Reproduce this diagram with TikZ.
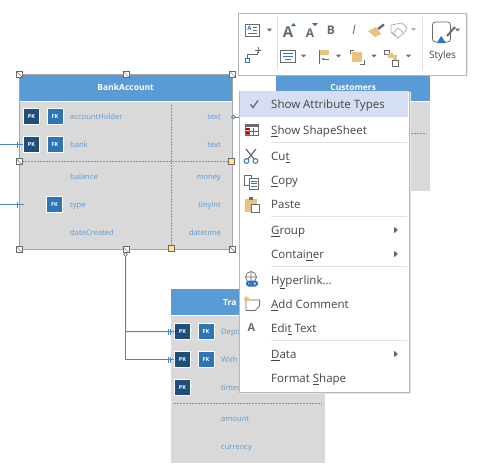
\documentclass[tikz,border=0pt]{standalone}
\usepackage{fontspec}
\setmainfont{Open Sans}
\usetikzlibrary{arrows.meta, positioning, calc}
\definecolor{HeadBlue}{HTML}{5B9BD5}
\definecolor{BodyGray}{HTML}{D9D9D9}
\definecolor{PkBlue}{HTML}{1F4E79}
\definecolor{FkBlue}{HTML}{2E75B6}
\definecolor{LineBlue}{HTML}{4A86C0}
\definecolor{EdgeGray}{HTML}{A6A6A6}
\definecolor{MenuText}{HTML}{444444}
\definecolor{MenuPick}{HTML}{D5DEF3}
\definecolor{MenuRule}{HTML}{E1E1E1}
\definecolor{IconTan}{HTML}{E9C27B}
\definecolor{IconGray}{HTML}{6B6B6B}
\definecolor{HandleYellow}{HTML}{FFE680}
\newcommand{\keyed}[1]{\underline{#1}}
\tikzset{
  entitybody/.style={fill=BodyGray, anchor=north west, inner sep=0pt},
  entityhead/.style={fill=HeadBlue, anchor=north west, inner sep=0pt, minimum height=26pt, text=white, font=\fontsize{8.5}{10}\selectfont\bfseries},
  pkbox/.style={draw=white, fill=PkBlue, minimum size=16pt, inner sep=0pt, text=white, font=\fontsize{5.5}{6}\selectfont\bfseries},
  fkbox/.style={pkbox, fill=FkBlue},
  attrname/.style={anchor=west, inner sep=0pt, text=HeadBlue, text height=8pt, text depth=2pt, font=\fontsize{7.6}{9}\selectfont},
  attrtype/.style={attrname, anchor=east},
  handlebox/.style={draw=IconGray, fill=white, minimum size=6pt, inner sep=0pt, path picture={\draw[IconGray, line width=.4pt] (path picture bounding box.north west) -- (path picture bounding box.south east);}},
  yellowbox/.style={draw=IconGray, fill=HandleYellow, minimum size=6pt, inner sep=0pt},
  dotline/.style={HeadBlue, line width=.9pt, dash pattern=on 2pt off 1pt},
  joinline/.style={LineBlue, line width=1pt},
  menuitem/.style={anchor=west, inner sep=0pt, text=MenuText, text height=10pt, text depth=2pt, font=\fontsize{11.5}{13}\selectfont},
  menurule/.style={MenuRule, line width=1pt},
  droparrow/.pic={\fill[IconGray] (-2.6,-1.4) -- (2.6,-1.4) -- (0,1.4) -- cycle;},
  subarrow/.pic={\fill[IconGray] (-1.8,-3.2) -- (2,0) -- (-1.8,3.2) -- cycle;}
}
\begin{document}
\begin{tikzpicture}[x=1pt, y=-1pt]
  \useasboundingbox[fill=white] (0,0) rectangle (485,467);

  % Customers, mostly behind the toolbar and the menu
  \node[entitybody, minimum width=154pt, minimum height=117pt] (custBody) at (276,74) {};
  \node[entityhead, minimum width=154pt, minimum height=27pt] (custHead) at (276,74) {Customers};
  \draw[white, line width=.8pt] (custHead.south west) -- (custHead.south east);
  \coordinate (custRuleA) at (276,133.5);
  \coordinate (custRuleB) at (426,133.5);
  \draw[dotline] (custRuleA) -- (custRuleB);

  % Transaction
  \node[entitybody, minimum width=154pt, minimum height=174pt] (tranBody) at (171,289) {};
  \node[entityhead, minimum width=154pt] (tranHead) at (171,289) {};
  \draw[white, line width=.8pt] (tranHead.south west) -- (tranHead.south east);
  \node[anchor=west, inner sep=0pt, text=white, font=\fontsize{8.5}{10}\selectfont\bfseries] (tranTitle) at (223,302) {Tra};
  \node[pkbox] (tranPkA) at (182.5,331.5) {PK};
  \node[fkbox, right=7pt of tranPkA] (tranFkA) {FK};
  \node[pkbox] (tranPkB) at (182.5,359.5) {PK};
  \node[fkbox, right=7pt of tranPkB] (tranFkB) {FK};
  \node[pkbox] (tranPkC) at (182.5,387.5) {PK};
  \node[attrname] (tranDepo) at (221,331.5) {Depo};
  \node[attrname] (tranWith) at (221,359.5) {With};
  \node[attrname] (tranTime) at (221,387.5) {times};
  \node[attrname] (tranAmount) at (221,418.5) {amount};
  \node[attrname] (tranCurrency) at (221,446.5) {currency};
  \coordinate (tranRuleA) at (174,403.5);
  \coordinate (tranRuleB) at (322,403.5);
  \draw[dotline] (tranRuleA) -- (tranRuleB);

  % BankAccount
  \node[entitybody, minimum width=213pt, minimum height=175pt] (bankBody) at (19,74) {};
  \node[entityhead, minimum width=213pt, minimum height=27pt] (bankHead) at (19,74) {BankAccount};
  \draw[white, line width=.8pt] (bankHead.south west) -- (bankHead.south east);
  \node[pkbox] (bankPkA) at (31.5,116.5) {PK};
  \node[fkbox, right=7pt of bankPkA] (bankFkA) {FK};
  \node[pkbox] (bankPkB) at (31.5,144.5) {PK};
  \node[fkbox, right=7pt of bankPkB] (bankFkB) {FK};
  \node[fkbox] (bankFkC) at (54.5,204.5) {FK};
  \node[attrname] (bankHolder) at (70,116.5) {accountHolder};
  \node[attrname] (bankBank) at (70,144.5) {bank};
  \node[attrname] (bankBalance) at (70,176.5) {balance};
  \node[attrname] (bankType) at (70,204.5) {type};
  \node[attrname] (bankDate) at (70,232.5) {dateCreated};
  \node[attrtype] (bankTypeA) at (221,116.5) {text};
  \node[attrtype] (bankTypeB) at (221,144.5) {text};
  \node[attrtype] (bankTypeC) at (221,176.5) {money};
  \node[attrtype] (bankTypeD) at (221,204.5) {tinyint};
  \node[attrtype] (bankTypeE) at (221,232.5) {datetime};
  \draw[EdgeGray, line width=.9pt] (bankBody.north west) rectangle (bankBody.south east);

  % selection handles
  \node[yellowbox] (yellowA) at (231.5,161.5) {};
  \node[yellowbox] (yellowB) at (171.5,248.5) {};
  \draw[dotline] (bankBody.west |- yellowA) -- (yellowA);
  \draw[dotline] (yellowB |- bankBody.north) ++(0,31) -- (yellowB);
  \node[handlebox] (handleNW) at (bankBody.north west) {};
  \node[handlebox] (handleN) at (bankBody.north) {};
  \node[handlebox] (handleNE) at (bankBody.north east) {};
  \node[handlebox] (handleW) at (19,161.5) {};
  \node[handlebox] (handleSW) at (bankBody.south west) {};
  \node[handlebox] (handleS) at (bankBody.south) {};
  \node[handlebox] (handleSE) at (bankBody.south east) {};

  % connectors
  \coordinate (leftA) at (0,144.5);
  \coordinate (leftB) at (0,204.5);
  \coordinate (leftBEnd) at (24,204.5);
  \coordinate (dropEnd) at (125.5,259);
  \coordinate (custEnd) at (240,117);
  \draw[joinline] (leftA) -- (bankPkB.west);
  \draw[joinline] (17,141.5) -- (17,147.5);
  \draw[joinline] (leftB) -- (leftBEnd);
  \draw[joinline] (17,201.5) -- (17,207.5);
  \draw[joinline] (handleS.south) -- (dropEnd) |- (tranPkA.west);
  \draw[joinline] (dropEnd) |- (tranPkB.west);
  \draw[joinline] (168,328.5) -- (168,334.5) (170.5,328.5) -- (170.5,334.5);
  \draw[joinline] (168,356.5) -- (168,362.5) (170.5,356.5) -- (170.5,362.5);
  \draw[LineBlue, fill=white, line width=.7pt] (125.5,254.5) circle (1.8);
  \draw[joinline] (231,117) -- (custEnd);
  \draw[LineBlue, fill=BodyGray, line width=.7pt] (233.5,117) circle (1.8);

  % toolbar
  \fill[black!10] (240,14) rectangle (468,76);
  \node[draw=EdgeGray!80, fill=white, anchor=north west, minimum width=228pt, minimum height=62pt, inner sep=0pt] (toolbar) at (238,12.5) {};
  \draw[MenuRule] (277,16) -- (277,70);
  \draw[MenuRule] (422.5,16) -- (422.5,70);
  % text block
  \draw[IconGray, line width=.8pt] (245.5,24.5) rectangle (259,36);
  \node[inner sep=0pt, text=FkBlue, font=\fontsize{6}{6}\selectfont\bfseries] (blockA) at (249.5,28.5) {A};
  \draw[IconGray, line width=.6pt] (253,27) -- (257,27) (253,30) -- (257,30) (248,33) -- (257,33);
  \pic at (269.5,30) {droparrow};
  % connector tool
  \draw[FkBlue, line width=.8pt] (245.5,58) rectangle (249.5,62);
  \draw[IconGray, line width=.7pt] (247.5,58) -- (247.5,54) -- (257,54) -- (257,52) (258,47) -- (258,53) (255,50) -- (261,50);
  % font buttons
  \node[inner sep=0pt, text=IconGray, font=\fontsize{15}{15}\selectfont\bfseries] (fontUp) at (288,32) {A};
  \fill[FkBlue] (291,26) -- (296,26) -- (293.5,23) -- cycle;
  \node[inner sep=0pt, text=IconGray, font=\fontsize{12}{12}\selectfont\bfseries] (fontDown) at (310,33) {A};
  \fill[FkBlue] (312,23) -- (318,23) -- (315,26) -- cycle;
  \node[inner sep=0pt, text=IconGray, font=\fontsize{12}{12}\selectfont\bfseries] (fontBold) at (331,30) {B};
  \node[inner sep=0pt, text=IconGray, font=\fontsize{13}{13}\selectfont\itshape] (fontItalic) at (354,30) {I};
  % format painter
  \fill[IconTan] (368,31) -- (376,27) -- (381,34) -- (375,37) -- cycle;
  \draw[IconGray, line width=2.4pt] (378,29) -- (384,24.5);
  % ghost style button
  \draw[black!30, line width=.8pt] (391,25) -- (402,23) -- (407,28) -- (405,32);
  \draw[black!30, line width=.8pt] (391,25) -- (391,32) -- (395,36);
  \draw[black!30, fill=white, line width=.8pt] (398,28) -- (404,33) -- (398,38) -- (393,33) -- cycle;
  \fill[black!30] (411,28) -- (416,28) -- (413.5,31) -- cycle;
  % paragraph
  \draw[IconGray, line width=.8pt] (280.5,50) rectangle (295,62);
  \draw[FkBlue, line width=.8pt] (283,53) -- (293,53) (283,56) -- (293,56) (285,59) -- (291,59);
  \pic at (303.5,56) {droparrow};
  % align
  \draw[IconGray, line width=.8pt] (319,50) -- (319,64);
  \fill[IconTan] (320,50) rectangle (329,55);
  \draw[FkBlue, line width=.9pt, -{Latex[length=3pt]}] (329,59) -- (321,59);
  \pic at (338.5,56) {droparrow};
  % bring forward
  \draw[IconGray, line width=.7pt] (350,54) -- (350,50) -- (354,50) (364,60) -- (364,64) -- (360,64);
  \fill[IconTan] (352,52) rectangle (362,62);
  \pic at (374,56) {droparrow};
  % group
  \draw[IconGray, line width=.7pt] (384.5,50) rectangle (389,54.5);
  \fill[IconTan] (388,53) rectangle (393,58);
  \fill[IconTan] (393,55) rectangle (397,60);
  \draw[IconGray, line width=.7pt] (392,60) rectangle (398,66);
  \pic at (408.5,56) {droparrow};
  % styles
  \draw[IconGray, line width=.8pt, rounded corners=3pt] (432.5,22) rectangle (450.5,42);
  \fill[FkBlue] (437,43) -- (441,36) -- (446,43) -- cycle;
  \draw[IconGray, line width=2pt] (447,36) -- (455,27);
  \pic at (457.5,30) {droparrow};
  \node[inner sep=0pt, text=MenuText, font=\fontsize{10}{12}\selectfont] (stylesLabel) at (442.5,56) {Styles};

  % context menu
  \fill[black!10] (241,92) rectangle (410.5,393.5);
  \node[draw=EdgeGray!80, fill=white, anchor=north west, minimum width=169.5pt, minimum height=301pt, inner sep=0pt] (menu) at (239,90.5) {};
  \fill[MenuPick] (240,91) rectangle (408,117);
  \node[menuitem] (itemTypes) at (271,104.5) {Show Attribute Types};
  \node[menuitem] (itemSheet) at (271,130.5) {\keyed{S}how ShapeSheet};
  \node[menuitem] (itemCut) at (271,156.5) {Cu\keyed{t}};
  \node[menuitem] (itemCopy) at (271,180.5) {\keyed{C}opy};
  \node[menuitem] (itemPaste) at (271,204.5) {Paste};
  \node[menuitem] (itemGroup) at (271,230.5) {\keyed{G}roup};
  \node[menuitem] (itemContainer) at (271,254.5) {Contai\keyed{n}er};
  \node[menuitem] (itemLink) at (271,280.5) {H\keyed{y}perlink...};
  \node[menuitem] (itemComment) at (271,304.5) {\keyed{A}dd Comment};
  \node[menuitem] (itemEdit) at (271,328.5) {Edi\keyed{t} Text};
  \node[menuitem] (itemData) at (271,354.5) {\keyed{D}ata};
  \node[menuitem] (itemFormat) at (271,378.5) {Format \keyed{S}hape};
  \draw[menurule] (271,142.5) -- (407,142.5);
  \draw[menurule] (271,216.5) -- (407,216.5);
  \draw[menurule] (271,266.5) -- (407,266.5);
  \draw[menurule] (271,340.5) -- (407,340.5);
  \pic at (396,230) {subarrow};
  \pic at (396,254) {subarrow};
  \pic at (396,354) {subarrow};
  % menu icons
  \draw[IconGray, line width=1.3pt] (250.5,104.5) -- (253,107.5) -- (258,100.5);
  \draw[IconGray, line width=.7pt] (245.5,124.5) rectangle (258,135.5);
  \draw[IconGray, line width=.4pt] (249.5,127.5) -- (249.5,135.5) (253.5,127.5) -- (253.5,135.5) (245.5,131) -- (258,131);
  \fill[IconGray] (245.5,124.5) rectangle (258,127);
  \fill[red!70!black] (246,128) rectangle (249,130) (246,132) rectangle (249,134.5);
  \draw[IconGray, line width=1.2pt] (246,149) -- (254,159) (256,149) -- (248,159);
  \draw[FkBlue, line width=1pt] (246.5,161) circle (2.4) (255.5,161) circle (2.4);
  \draw[IconGray, line width=.7pt] (244.5,175) rectangle (251,185);
  \draw[IconGray, fill=white, line width=.7pt] (249,178) rectangle (258.5,189);
  \draw[FkBlue, line width=.7pt] (251,181) -- (257,181) (251,183.5) -- (257,183.5) (251,186) -- (257,186);
  \fill[IconTan] (245,199) rectangle (257,212);
  \fill[IconGray] (249,197) rectangle (253,200);
  \draw[IconGray, fill=white, line width=.7pt] (251,204) rectangle (259,212.5);
  \draw[IconGray, line width=.7pt] (251,277) circle (5.5) (245.5,277) -- (256.5,277) (251,271.5) -- (251,282);
  \draw[FkBlue, line width=2pt, rounded corners=1.5pt] (247,281.5) rectangle (253,285.5) (250,281.5) rectangle (257,285.5);
  \draw[IconGray, line width=.7pt] (246,300) -- (259.5,300) -- (259.5,306) -- (255,310.5) -- (246,310.5) -- cycle;
  \fill[IconTan] (246.5,299) circle (2.6);
  \node[inner sep=0pt, text=IconGray, font=\fontsize{11}{12}\selectfont\bfseries] (iconEdit) at (251.5,328) {A};
\end{tikzpicture}
\end{document}
